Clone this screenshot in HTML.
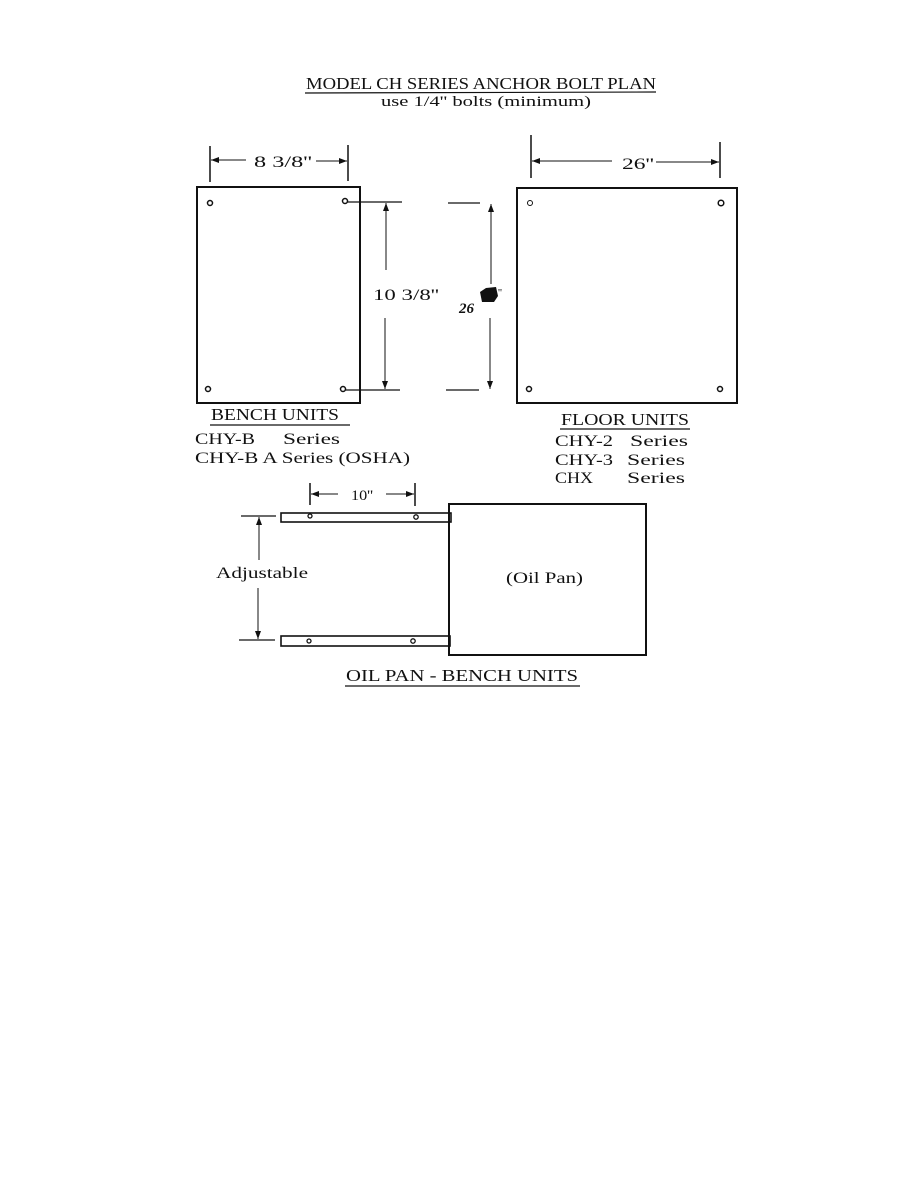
<!DOCTYPE html>
<html><head><meta charset="utf-8"><style>
html,body{margin:0;padding:0;background:#fff;}
svg{display:block;}
text{font-family:"Liberation Serif",serif;fill:#111;}
</style></head><body>
<svg width="918" height="1188" viewBox="0 0 918 1188" xmlns="http://www.w3.org/2000/svg">
<defs>
<marker id="a" markerWidth="8" markerHeight="6" refX="8" refY="3" orient="auto" markerUnits="userSpaceOnUse"><path d="M0,0 L8,3 L0,6 z" fill="#111"/></marker>
</defs>
<g stroke="#111" fill="none">
<text x="306" y="89" font-size="17" textLength="350" lengthAdjust="spacingAndGlyphs" stroke="none">MODEL CH SERIES ANCHOR BOLT PLAN</text>
<line x1="305" y1="93" x2="656" y2="92" stroke-width="1.2"/>
<text x="381" y="106" font-size="15" textLength="210" lengthAdjust="spacingAndGlyphs" stroke="none">use 1/4'' bolts (minimum)</text>

<rect x="197" y="187" width="163" height="216" stroke-width="2"/>
<g stroke-width="1.5"><circle cx="210" cy="203" r="2.5"/><circle cx="345" cy="201" r="2.5"/><circle cx="208" cy="389" r="2.5"/><circle cx="343" cy="389" r="2.5"/></g>
<line x1="210" y1="146" x2="210" y2="182" stroke-width="1.5"/>
<line x1="348" y1="145" x2="348" y2="181" stroke-width="1.5"/>
<line x1="246" y1="160" x2="211" y2="160" marker-end="url(#a)"/>
<line x1="316" y1="161" x2="347" y2="161" marker-end="url(#a)"/>
<text x="254" y="167" font-size="16" textLength="58" lengthAdjust="spacingAndGlyphs" stroke="none">8 3/8''</text>
<line x1="347" y1="202" x2="402" y2="202" stroke-width="1.3"/>
<line x1="345" y1="390" x2="400" y2="390" stroke-width="1.3"/>
<line x1="386" y1="270" x2="386" y2="203" marker-end="url(#a)"/>
<line x1="385" y1="318" x2="385" y2="389" marker-end="url(#a)"/>
<text x="373" y="300" font-size="16" textLength="66" lengthAdjust="spacingAndGlyphs" stroke="none">10 3/8''</text>

<rect x="517" y="188" width="220" height="215" stroke-width="2"/>
<g stroke-width="1.5"><circle cx="530" cy="203" r="2.5" stroke-width="1"/><circle cx="721" cy="203" r="2.8"/><circle cx="529" cy="389" r="2.5"/><circle cx="720" cy="389" r="2.5"/></g>
<line x1="531" y1="135" x2="531" y2="178" stroke-width="1.5"/>
<line x1="720" y1="142" x2="720" y2="178" stroke-width="1.5"/>
<line x1="612" y1="161" x2="532" y2="161" marker-end="url(#a)"/>
<line x1="656" y1="162" x2="719" y2="162" marker-end="url(#a)"/>
<text x="622" y="169" font-size="16" textLength="32" lengthAdjust="spacingAndGlyphs" stroke="none">26''</text>
<line x1="448" y1="203" x2="480" y2="203" stroke-width="1.3"/>
<line x1="446" y1="390" x2="479" y2="390" stroke-width="1.3"/>
<line x1="491" y1="284" x2="491" y2="204" marker-end="url(#a)"/>
<line x1="490" y1="318" x2="490" y2="389" marker-end="url(#a)"/>
<path d="M480,292 L486,288 L496,287 L498,296 L494,302 L482,302 Z" fill="#111" stroke="none"/>
<text x="459" y="313" font-size="15" font-style="italic" font-weight="bold" stroke="none">26</text>
<text x="498" y="296" font-size="11" stroke="none">''</text>

<text x="211" y="420" font-size="17" textLength="128" lengthAdjust="spacingAndGlyphs" stroke="none">BENCH UNITS</text>
<line x1="210" y1="425" x2="350" y2="425" stroke-width="1.2"/>
<text x="195" y="444" font-size="16" textLength="60" lengthAdjust="spacingAndGlyphs" stroke="none">CHY-B</text>
<text x="283" y="444" font-size="16" textLength="57" lengthAdjust="spacingAndGlyphs" stroke="none">Series</text>
<text x="195" y="463" font-size="16" textLength="215" lengthAdjust="spacingAndGlyphs" stroke="none">CHY-B A Series (OSHA)</text>
<text x="561" y="425" font-size="17" textLength="128" lengthAdjust="spacingAndGlyphs" stroke="none">FLOOR UNITS</text>
<line x1="560" y1="429" x2="690" y2="429" stroke-width="1.2"/>
<text x="555" y="446" font-size="16" textLength="58" lengthAdjust="spacingAndGlyphs" stroke="none">CHY-2</text><text x="630" y="446" font-size="16" textLength="58" lengthAdjust="spacingAndGlyphs" stroke="none">Series</text>
<text x="555" y="465" font-size="16" textLength="58" lengthAdjust="spacingAndGlyphs" stroke="none">CHY-3</text><text x="627" y="465" font-size="16" textLength="58" lengthAdjust="spacingAndGlyphs" stroke="none">Series</text>
<text x="555" y="483" font-size="16" textLength="38" lengthAdjust="spacingAndGlyphs" stroke="none">CHX</text><text x="627" y="483" font-size="16" textLength="58" lengthAdjust="spacingAndGlyphs" stroke="none">Series</text>

<rect x="449" y="504" width="197" height="151" stroke-width="2"/>
<rect x="281" y="513" width="170" height="9" stroke-width="1.6"/>
<rect x="281" y="636" width="169" height="10" stroke-width="1.6"/>
<g stroke-width="1.3"><circle cx="310" cy="516" r="2"/><circle cx="416" cy="517" r="2.2"/><circle cx="309" cy="641" r="2"/><circle cx="413" cy="641" r="2.2"/></g>
<line x1="310" y1="483" x2="310" y2="505" stroke-width="1.5"/>
<line x1="415" y1="483" x2="415" y2="506" stroke-width="1.5"/>
<line x1="338" y1="494" x2="311" y2="494" marker-end="url(#a)"/>
<line x1="386" y1="494" x2="414" y2="494" marker-end="url(#a)"/>
<text x="351" y="500" font-size="15" textLength="22" lengthAdjust="spacingAndGlyphs" stroke="none">10''</text>
<line x1="241" y1="516" x2="276" y2="516" stroke-width="1.3"/>
<line x1="239" y1="640" x2="275" y2="640" stroke-width="1.3"/>
<line x1="259" y1="560" x2="259" y2="517" marker-end="url(#a)"/>
<line x1="258" y1="588" x2="258" y2="639" marker-end="url(#a)"/>
<text x="216" y="578" font-size="16" textLength="92" lengthAdjust="spacingAndGlyphs" stroke="none">Adjustable</text>
<text x="506" y="583" font-size="16" textLength="77" lengthAdjust="spacingAndGlyphs" stroke="none">(Oil Pan)</text>
<text x="346" y="681" font-size="17" textLength="232" lengthAdjust="spacingAndGlyphs" stroke="none">OIL PAN - BENCH UNITS</text>
<line x1="345" y1="686" x2="580" y2="686" stroke-width="1.2"/>
</g>
</svg>
</body></html>
